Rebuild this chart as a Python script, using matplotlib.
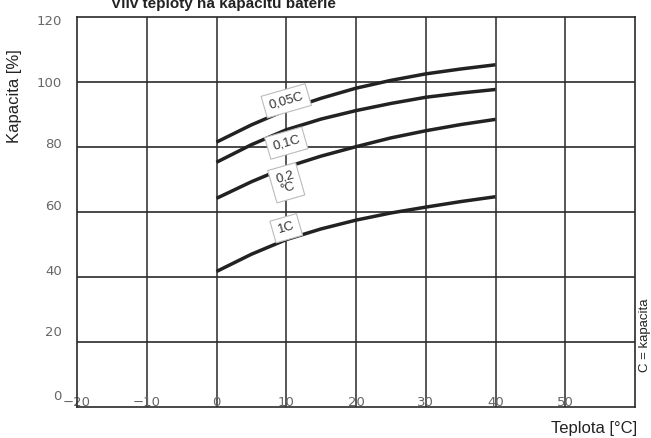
import matplotlib
matplotlib.use("Agg")
import matplotlib.pyplot as plt
import matplotlib.transforms as mtransforms

temps = [0, 5, 10, 15, 20, 25, 30, 35, 40]
cap_005C = [81.5, 86.8, 91.4, 95.0, 98.1, 100.5, 102.5, 104.0, 105.3]
cap_01C = [75.3, 80.7, 85.3, 88.6, 91.2, 93.4, 95.3, 96.6, 97.7]
cap_02C = [64.2, 69.3, 73.8, 77.2, 80.1, 82.8, 85.0, 86.9, 88.5]
cap_1C = [41.7, 47.0, 51.5, 54.8, 57.5, 59.7, 61.5, 63.2, 64.7]
series = [cap_005C, cap_01C, cap_02C, cap_1C]
labels = ["0,05C", "0,1C", "0,2\n°C", "1C"]
label_pos = [(10, 94.2), (10, 81.2), (10, 69.0), (10, 55.0)]

xticks = [-20, -10, 0, 10, 20, 30, 40, 50]
yticks = [0, 20, 40, 60, 80, 100, 120]
# vertical pixel shift of each y tick label (label drawn slightly off its gridline)
ylabel_shift_px = [12, 11, 7, 7, 4, 0, -3]

fig = plt.figure(figsize=(6.51, 4.38), dpi=100)
ax = fig.add_axes([77/651, 31/438, 558/651, 390/438])
ax.set_xlim(-20, 60)
ax.set_ylim(0, 120)

grid_c = "#2a2a2a"
for x in [-10, 0, 10, 20, 30, 40, 50]:
    ax.axvline(x, color="#3a3a3a", lw=1.2, zorder=1)
for y in [20, 40, 60, 80, 100]:
    ax.axhline(y, color=grid_c, lw=1.2, zorder=1)
for s in ax.spines.values():
    s.set_color(grid_c)
    s.set_linewidth(1.2)

for vals in series:
    ax.plot(temps, vals, color="#222222", lw=2.5, solid_capstyle="butt",
            solid_joinstyle="round", zorder=3)

for lab, (lx, ly) in zip(labels, label_pos):
    ax.text(lx, ly, lab, rotation=16, ha="center", va="center", fontsize=9.5,
            family="Liberation Sans", color="#333333", zorder=4, linespacing=0.9,
            bbox=dict(boxstyle="square,pad=0.4", fc="white", ec="#bbbbbb", lw=0.8))

ax.set_xticks(xticks)
ax.set_xticklabels([str(v).replace("-", "\u2212") for v in xticks])
ax.set_yticks(yticks)
ax.set_yticklabels([str(v) for v in yticks])
ax.tick_params(axis="both", length=0, labelcolor="#666666", labelsize=9.5)
ax.tick_params(axis="x", pad=-8)
ax.tick_params(axis="y", pad=11)
for t, sh in zip(ax.get_yticklabels(), ylabel_shift_px):
    off = mtransforms.ScaledTranslation(0, sh / 100, fig.dpi_scale_trans)
    t.set_transform(t.get_transform() + off)

fig.text(223/651, 1 - 4/438, "Vliv teploty na kapacitu baterie", ha="center", va="center",
         fontsize=11, fontweight="bold", family="Liberation Sans", color="#222222")
fig.text(15/651, 1 - 96/438, "Kapacita [%]", rotation=90, ha="center", va="center",
         fontsize=12, family="Liberation Sans", color="#222222")
fig.text(637/651, 1 - 428/438, "Teplota [°C]", ha="right", va="center",
         fontsize=12, family="Liberation Sans", color="#222222")
fig.text(645/651, 1 - 335/438, "C = kapacita", rotation=90, ha="center", va="center",
         fontsize=9.5, family="Liberation Sans", color="#222222")

fig.savefig("out.png", dpi=100)
